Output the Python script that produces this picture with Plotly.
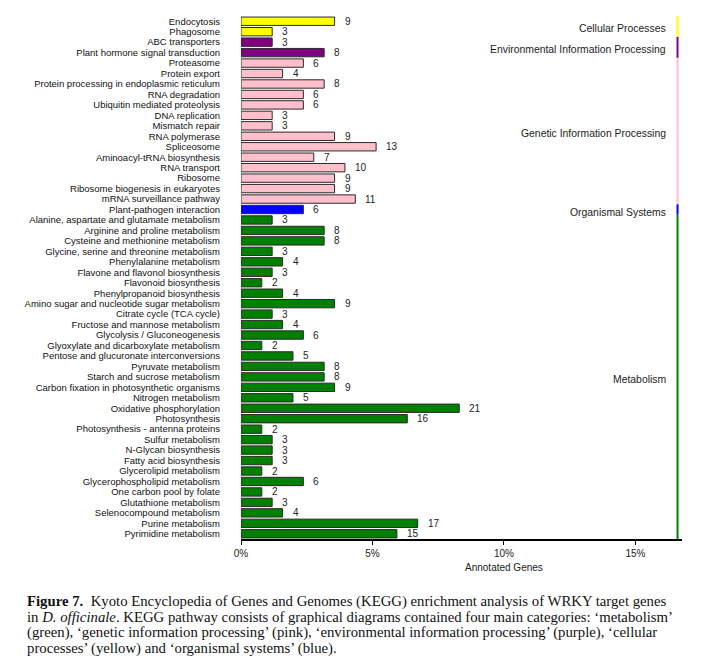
import plotly.graph_objects as go

categories = [
    "Endocytosis", "Phagosome", "ABC transporters", "Plant hormone signal transduction",
    "Proteasome", "Protein export", "Protein processing in endoplasmic reticulum",
    "RNA degradation", "Ubiquitin mediated proteolysis", "DNA replication", "Mismatch repair",
    "RNA polymerase", "Spliceosome", "Aminoacyl-tRNA biosynthesis", "RNA transport",
    "Ribosome", "Ribosome biogenesis in eukaryotes", "mRNA surveillance pathway",
    "Plant-pathogen interaction",
    "Alanine, aspartate and glutamate metabolism", "Arginine and proline metabolism",
    "Cysteine and methionine metabolism", "Glycine, serine and threonine metabolism",
    "Phenylalanine metabolism", "Flavone and flavonol biosynthesis", "Flavonoid biosynthesis",
    "Phenylpropanoid biosynthesis", "Amino sugar and nucleotide sugar metabolism",
    "Citrate cycle (TCA cycle)", "Fructose and mannose metabolism", "Glycolysis / Gluconeogenesis",
    "Glyoxylate and dicarboxylate metabolism", "Pentose and glucuronate interconversions",
    "Pyruvate metabolism", "Starch and sucrose metabolism", "Carbon fixation in photosynthetic organisms",
    "Nitrogen metabolism", "Oxidative phosphorylation", "Photosynthesis",
    "Photosynthesis - antenna proteins", "Sulfur metabolism", "N-Glycan biosynthesis",
    "Fatty acid biosynthesis", "Glycerolipid metabolism", "Glycerophospholipid metabolism",
    "One carbon pool by folate", "Glutathione metabolism", "Selenocompound metabolism",
    "Purine metabolism", "Pyrimidine metabolism",
]
counts = [9, 3, 3, 8, 6, 4, 8, 6, 6, 3, 3, 9, 13, 7, 10, 9, 9, 11, 6,
          3, 8, 8, 3, 4, 3, 2, 4, 9, 3, 4, 6, 2, 5, 8, 8, 9, 5, 21, 16, 2,
          3, 3, 3, 2, 6, 2, 3, 4, 17, 15]
group_names = ["Cellular Processes", "Environmental Information Processing",
               "Genetic Information Processing", "Organismal Systems", "Metabolism"]
group_sizes = [2, 2, 14, 1, 31]
group_colors = ["#FFFF00", "#800080", "#FFC0CB", "#0000FF", "#008000"]
total_annotated = 253
x_ticks = [0, 5, 10, 15]
x_tick_labels = ["0%", "5%", "10%", "15%"]
caption_lines = [
    "<b>Figure 7.</b>  Kyoto Encyclopedia of Genes and Genomes (KEGG) enrichment analysis of WRKY target genes",
    "in <i>D. officinale</i>. KEGG pathway consists of graphical diagrams contained four main categories: \u2018metabolism\u2019",
    "(green), \u2018genetic information processing\u2019 (pink), \u2018environmental information processing\u2019 (purple), \u2018cellular",
    "processes\u2019 (yellow) and \u2018organismal systems\u2019 (blue).",
]

pct = [c / total_annotated * 100 for c in counts]
idx = list(range(len(categories)))
bar_colors = []
for g, n in enumerate(group_sizes):
    bar_colors += [group_colors[g]] * n

fig = go.Figure()
fig.add_trace(go.Bar(
    x=pct, y=idx, orientation="h", width=0.8,
    marker=dict(color=bar_colors, line=dict(color="#2a2a2a", width=1)),
    hoverinfo="skip",
))

FONT = "Liberation Sans, Arial, sans-serif"
annotations = []
for i, (p, c) in enumerate(zip(pct, counts)):
    annotations.append(dict(x=p, y=i, xref="x", yref="y", text=str(c), showarrow=False,
                            xanchor="left", xshift=8, font=dict(size=10, color="#222", family=FONT)))

line_x = 16.6
shapes = []
start = 0
for g, n in enumerate(group_sizes):
    shapes.append(dict(type="line", xref="x", yref="y", x0=line_x, x1=line_x,
                       y0=start - 0.5, y1=start + n - 0.5,
                       line=dict(color=group_colors[g], width=2)))
    annotations.append(dict(x=line_x, y=start + (n - 1) / 2, xref="x", yref="y",
                            text=group_names[g], showarrow=False, xanchor="right",
                            yshift=-2.5, xshift=-10,
                            font=dict(size=10.4, color="#222", family=FONT)))
    start += n

annotations.append(dict(x=10, y=-0.055, xref="x", yref="paper", text="Annotated Genes",
                        showarrow=False, xanchor="center", yanchor="middle",
                        font=dict(size=10, color="#222", family=FONT)))

PW, PH = 441.0, 523.5
for k, line in enumerate(caption_lines):
    annotations.append(dict(x=(25 - 241) / PW, y=(539 - (601.5 + 15.7 * k)) / PH,
                            xref="paper", yref="paper", text=line, showarrow=False,
                            xanchor="left", yanchor="middle", align="left",
                            font=dict(size=14.75, color="#111",
                                      family="Liberation Serif, Times New Roman, serif")))

# page body adds an 8px offset, so the figure is 8px smaller and margins shifted
fig.update_layout(
    width=695, height=657, autosize=False,
    margin=dict(l=233, r=21, t=7.5, b=126),
    paper_bgcolor="white", plot_bgcolor="white",
    showlegend=False, bargap=0.2,
    xaxis=dict(range=[0, 16.77], tickmode="array", tickvals=x_ticks, ticktext=x_tick_labels,
               showgrid=False, zeroline=False, automargin=False,
               showline=True, linecolor="black", linewidth=2, ticks="outside", ticklen=4,
               tickcolor="black", tickwidth=1, tickfont=dict(size=10, color="#222", family=FONT)),
    yaxis=dict(range=[49.5, -0.5], tickmode="array", tickvals=idx, ticktext=categories,
               showgrid=False, automargin=False,
               zeroline=False, showline=False, ticks="", ticklabelstandoff=20,
               tickfont=dict(size=9.5, color="#111", family=FONT)),
    annotations=annotations, shapes=shapes,
)

fig.write_html("out.html")
